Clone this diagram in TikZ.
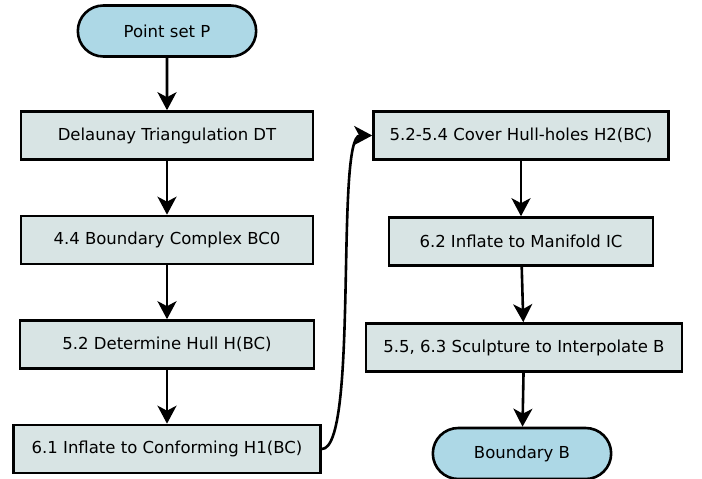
\documentclass[tikz,border=0pt]{standalone}
\usepackage{fontspec}
\setmainfont{DejaVu Sans}
\usetikzlibrary{arrows.meta}
\usetikzlibrary{positioning}
\usetikzlibrary{shapes}
\definecolor{termblue}{HTML}{ADD8E6}
\definecolor{stepgrey}{HTML}{D8E4E4}

\begin{document}
\begin{tikzpicture}[>={Stealth[length=18pt,width=19pt,inset=5pt]},x=1pt,y=1pt,node distance=104.5pt,line width=2.6pt,font=\fontsize{16.5}{20}\selectfont]
 \tikzstyle{term node}=[rounded rectangle,draw,fill=termblue,minimum height=51pt,minimum width=185pt]
 \tikzstyle{step node}=[rectangle,draw,fill=stepgrey,minimum height=48pt]
 \useasboundingbox (0,0) rectangle (702,-479);

       \node[term node] (P) at (167,-31) {Point set P};
       \node[step node,minimum width=292pt] (DT) [below of=P] {Delaunay Triangulation DT};
       \node[step node,minimum width=292pt] (BC0) [below of=DT] {4.4 Boundary Complex BC0};
       \node[step node,minimum width=294pt] (hull) [below of=BC0] {5.2 Determine Hull H(BC)};
       \node[step node,minimum width=307pt] (H1) [below of=hull] {6.1 Inflate to Conforming H1(BC)};

       \node[step node,minimum width=295pt] (H2) [right of=DT,node distance=354pt] {5.2-5.4 Cover Hull-holes H2(BC)};
       \node[step node,minimum width=264pt] (IC) [below of=H2,node distance=106pt] {6.2 Inflate to Manifold IC};
       \node[step node,minimum width=316pt] (sculpt) [below of=IC,node distance=106pt,xshift=3pt] {5.5, 6.3 Sculpture to Interpolate B};
       \node[term node] (B) [below of=sculpt,node distance=106pt,xshift=-2pt] {Boundary B};

     \path[->]  (P) edge node {} (DT);
     \path[->]  (DT) edge node {} (BC0);
     \path[->]  (BC0) edge node {} (hull);
     \path[->]  (hull) edge node {} (H1);

     % jump to the second column
     \path[->]  (H1) edge[out=0,in=180,looseness=0.3] node {} (H2);

     \path[->]  (H2) edge node {} (IC);
     \path[->]  (IC) edge node {} (sculpt);
     \path[->]  (sculpt) edge node {} (B);
 \end{tikzpicture}
\end{document}
